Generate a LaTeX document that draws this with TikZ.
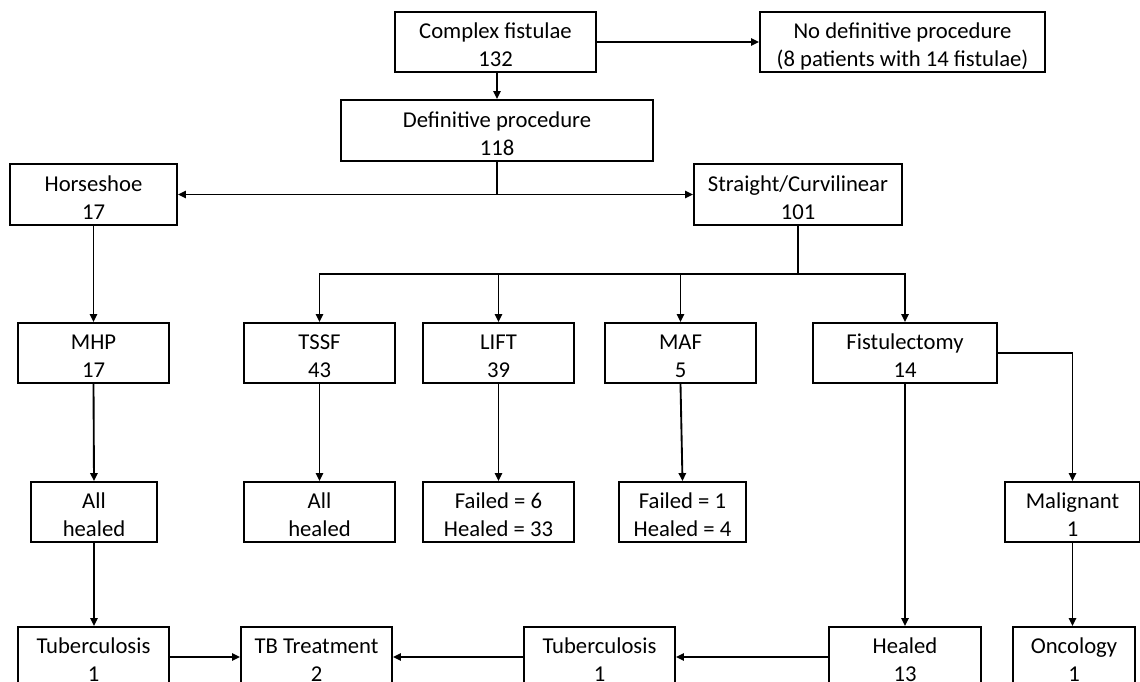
\documentclass[tikz,border=0pt]{standalone}
\usepackage{fontspec}
\setmainfont{Carlito}
\usetikzlibrary{arrows.meta}
\begin{document}
\begin{tikzpicture}[x=0.75pt,y=-0.75pt,
  box/.style={draw=black,line width=1.4pt,rectangle,align=center,inner sep=0pt,
    font=\fontsize{17pt}{21pt}\selectfont,minimum height=45pt,
    text height=37pt,text depth=0pt},
  arr/.style={draw=black,line width=1.4pt,-{Triangle[length=6pt,width=5.5pt]}},
  ln/.style={draw=black,line width=1.4pt}]
\useasboundingbox (0,0) rectangle (1140,682);
% row 1
\node[box,minimum width=150.75pt] (cf) at (495.5,42) {Complex fistulae\\132};
\node[box,minimum width=213.75pt] (nd) at (902.5,42) {No definitive procedure\\(8 patients with 14 fistulae)};
% row 2
\node[box,minimum width=234pt,minimum height=45.75pt] (dp) at (497,130.5) {Definitive procedure\\118};
% row 3
\node[box,minimum width=125.25pt,minimum height=45.75pt] (hs) at (93.5,194.5) {Horseshoe\\17};
\node[box,minimum width=156pt,minimum height=45.75pt] (sc) at (798,194.5) {Straight/Curvilinear\\101};
% row 4
\node[box,minimum width=113.25pt] (mhp) at (93.5,353) {MHP\\17};
\node[box,minimum width=113.25pt] (tssf) at (319.5,353) {TSSF\\43};
\node[box,minimum width=113.25pt] (lift) at (498.5,353) {LIFT\\39};
\node[box,minimum width=113.25pt] (maf) at (680.5,353) {MAF\\5};
\node[box,minimum width=138pt] (fis) at (905,353) {Fistulectomy\\14};
% row 5
\node[box,minimum width=94.5pt] (ah1) at (94,512) {All\\healed};
\node[box,minimum width=113.25pt] (ah2) at (319.5,512) {All\\healed};
\node[box,minimum width=113.25pt] (f6) at (498.5,512) {Failed = 6\\Healed = 33};
\node[box,minimum width=95.25pt] (f1) at (682.5,512) {Failed = 1\\Healed = 4};
\node[box,minimum width=101.25pt] (mal) at (1072.5,512) {Malignant\\1};
% row 6
\node[box,minimum width=113.25pt] (tb1) at (93.5,657) {Tuberculosis\\1};
\node[box,minimum width=113.25pt] (tbt) at (316.5,657) {TB Treatment\\2};
\node[box,minimum width=113.25pt] (tb2) at (599.5,657) {Tuberculosis\\1};
\node[box,minimum width=114pt] (hl) at (905,657) {Healed\\13};
\node[box,minimum width=91.5pt] (onc) at (1074,657) {Oncology\\1};
% connectors
\draw[arr] (cf.east) -- (nd.west);
\draw[arr] (cf.south -| dp.north) -- (dp.north);
\draw[arr] (dp.south) |- (hs.east);
\draw[arr] (dp.south) |- (sc.west);
\draw[arr] (hs.south) -- (mhp.north);
\coordinate (br) at (798,274);
\draw[ln] (sc.south) -- (br);
\draw[arr] (br) -| (tssf.north);
\draw[arr] (br) -| (lift.north);
\draw[arr] (br) -| (maf.north);
\draw[arr] (br) -| (fis.north);
\draw[arr] (mhp.south) -- (ah1.north);
\draw[arr] (tssf.south) -- (ah2.north);
\draw[arr] (lift.south) -- (f6.north);
\draw[arr] (maf.south) -- (f1.north);
\draw[arr] (fis.east) -| (mal.north);
\draw[arr] (fis.south) -- (hl.north);
\draw[arr] (mal.south) -- (mal.south |- onc.north);
\draw[arr] (ah1.south) -- (ah1.south |- tb1.north);
\draw[arr] (tb1.east) -- (tbt.west);
\draw[arr] (tb2.west) -- (tbt.east);
\draw[arr] (hl.west) -- (tb2.east);
\end{tikzpicture}
\end{document}
